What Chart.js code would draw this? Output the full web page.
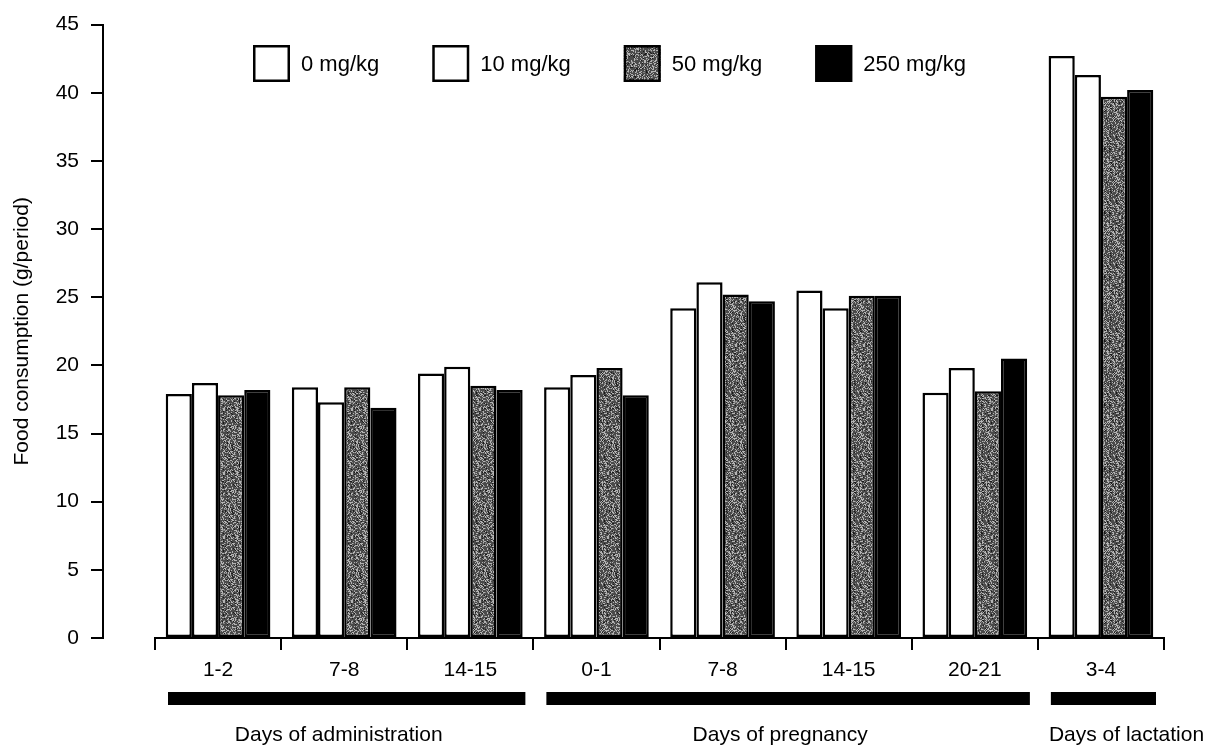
<!DOCTYPE html>
<html>
<head>
<meta charset="utf-8">
<script src="https://cdn.jsdelivr.net/npm/chart.js@4.4.0/dist/chart.umd.min.js"></script>
<style>
  html, body { margin: 0; padding: 0; background: #fff; }
  #wrap { position: relative; width: 1207px; height: 748px; }
</style>
</head>
<body>
<div id="wrap"><canvas id="food-chart"></canvas></div>
<script>
// Food consumption (g/period) by dose group
const periods = ['1-2', '7-8', '14-15', '0-1', '7-8', '14-15', '20-21', '3-4'];
const doseLabels = ['0 mg/kg', '10 mg/kg', '50 mg/kg', '250 mg/kg'];
const dose0 = [17.9, 18.4, 19.4, 18.4, 24.2, 25.5, 18.0, 42.7];
const dose10 = [18.7, 17.3, 19.9, 19.3, 26.1, 24.2, 19.8, 41.3];
const dose50 = [17.8, 18.4, 18.5, 19.8, 25.2, 25.1, 18.1, 39.7];
const dose250 = [18.2, 16.9, 18.2, 17.8, 24.7, 25.1, 20.5, 40.2];
const yTickStep = 5;
const yMax = 45;

// study phases shown under the axis (first and last period index)
const phaseNames = ['Days of administration', 'Days of pregnancy', 'Days of lactation'];
const phaseFirst = [0, 3, 7];
const phaseLast = [2, 6, 7];

const FONT = 'Liberation Sans, Arial, Helvetica, sans-serif';

// grey stipple fill for the 50 mg/kg bars (fixed hash, not data)
function stipple() {
  const size = 64;
  const c = document.createElement('canvas');
  c.width = c.height = size;
  const g = c.getContext('2d');
  g.fillStyle = '#4a4a4a';
  g.fillRect(0, 0, size, size);
  for (let y = 0; y < size; y++) {
    for (let x = 0; x < size; x++) {
      let h = (Math.imul(x, 374761393) + Math.imul(y, 668265263)) | 0;
      h = Math.imul(h ^ (h >>> 13), 1274126177);
      h = (h ^ (h >>> 16)) >>> 0;
      const v = h & 255;
      if (v < 70) { g.fillStyle = '#b4b4b4'; g.fillRect(x, y, 1, 1); }
      else if (v < 95) { g.fillStyle = '#808080'; g.fillRect(x, y, 1, 1); }
      else if (v > 235) { g.fillStyle = '#1a1a1a'; g.fillRect(x, y, 1, 1); }
    }
  }
  return g.createPattern(c, 'repeat');
}

const ctx = document.getElementById('food-chart');
const grey = stipple();

const fills = ['#ffffff', '#ffffff', grey, '#000000'];
const series = [dose0, dose10, dose50, dose250];

// legend drawn inside the plot, like the original
const insideLegend = {
  id: 'insideLegend',
  afterDraw(chart) {
    const c = chart.ctx;
    c.save();
    c.font = '22px ' + FONT;
    c.textBaseline = 'middle';
    let x = 253;
    const top = 45, box = 37;
    chart.data.datasets.forEach(ds => {
      c.fillStyle = ds.backgroundColor;
      c.fillRect(x, top, box, box);
      c.lineWidth = 2.5;
      c.strokeStyle = '#000';
      c.strokeRect(x + 1.25, top + 1.25, box - 2.5, box - 2.5);
      c.fillStyle = '#000';
      c.fillText(ds.label, x + box + 11, top + box / 2 + 1);
      x += box + 11 + c.measureText(ds.label).width + 53;
    });
    c.restore();
  }
};

// thick phase bars and phase names under the category labels
const phaseBars = {
  id: 'phaseBars',
  afterDraw(chart) {
    const c = chart.ctx;
    const xs = chart.scales.x;
    const step = (xs.right - xs.left) / periods.length;
    const base = chart.chartArea.bottom;
    c.save();
    c.font = '21px ' + FONT;
    c.textBaseline = 'middle';
    c.fillStyle = '#000';
    phaseNames.forEach((name, i) => {
      const a = xs.getPixelForValue(phaseFirst[i]) - step / 2 + 13;
      const b = xs.getPixelForValue(phaseLast[i]) + step / 2 - 8;
      c.fillRect(a, base + 54, b - a, 13);
      if (i === phaseNames.length - 1) {
        c.textAlign = 'left';
        c.fillText(name, a - 2, base + 97);
      } else {
        c.textAlign = 'center';
        c.fillText(name, (a + b) / 2 - 8, base + 97);
      }
    });
    c.restore();
  }
};

new Chart(ctx, {
  type: 'bar',
  data: {
    labels: periods,
    datasets: series.map((vals, i) => ({
      label: doseLabels[i],
      data: vals,
      yAxisID: 'y',
      backgroundColor: fills[i],
      borderColor: '#000',
      borderWidth: 2.5,
      borderSkipped: false,
      barPercentage: 1.0,
      categoryPercentage: 0.83
    }))
  },
  options: {
    responsive: true,
    maintainAspectRatio: false,
    animation: false,
    layout: { padding: { top: 17, right: 43, left: 0, bottom: 0 } },
    plugins: {
      legend: { display: false },
      tooltip: { enabled: false }
    },
    scales: {
      x: {
        offset: true,
        grid: { offset: true, drawOnChartArea: false, tickLength: 12, color: '#000', lineWidth: 2 },
        border: { color: '#000', width: 2 },
        ticks: { color: '#000', font: { family: FONT, size: 21 }, padding: 8 },
        afterFit: s => { s.height = 110; }
      },
      gap: {
        type: 'linear',
        position: 'left',
        weight: 0,
        grid: { display: false },
        border: { display: false },
        ticks: { display: false },
        afterFit: s => { s.width = 52; }
      },
      y: {
        position: 'left',
        weight: 1,
        min: 0,
        max: yMax,
        ticks: { stepSize: yTickStep, color: '#000', font: { family: FONT, size: 21 }, padding: 12 },
        grid: { drawOnChartArea: false, tickLength: 12, color: '#000', lineWidth: 2 },
        border: { color: '#000', width: 2 },
        title: {
          display: true,
          text: 'Food consumption (g/period)',
          color: '#000',
          font: { family: FONT, size: 21 },
          padding: { top: 10, bottom: 0 }
        },
        afterFit: s => { s.width = 103; }
      }
    }
  },
  plugins: [insideLegend, phaseBars]
});
</script>
</body>
</html>
